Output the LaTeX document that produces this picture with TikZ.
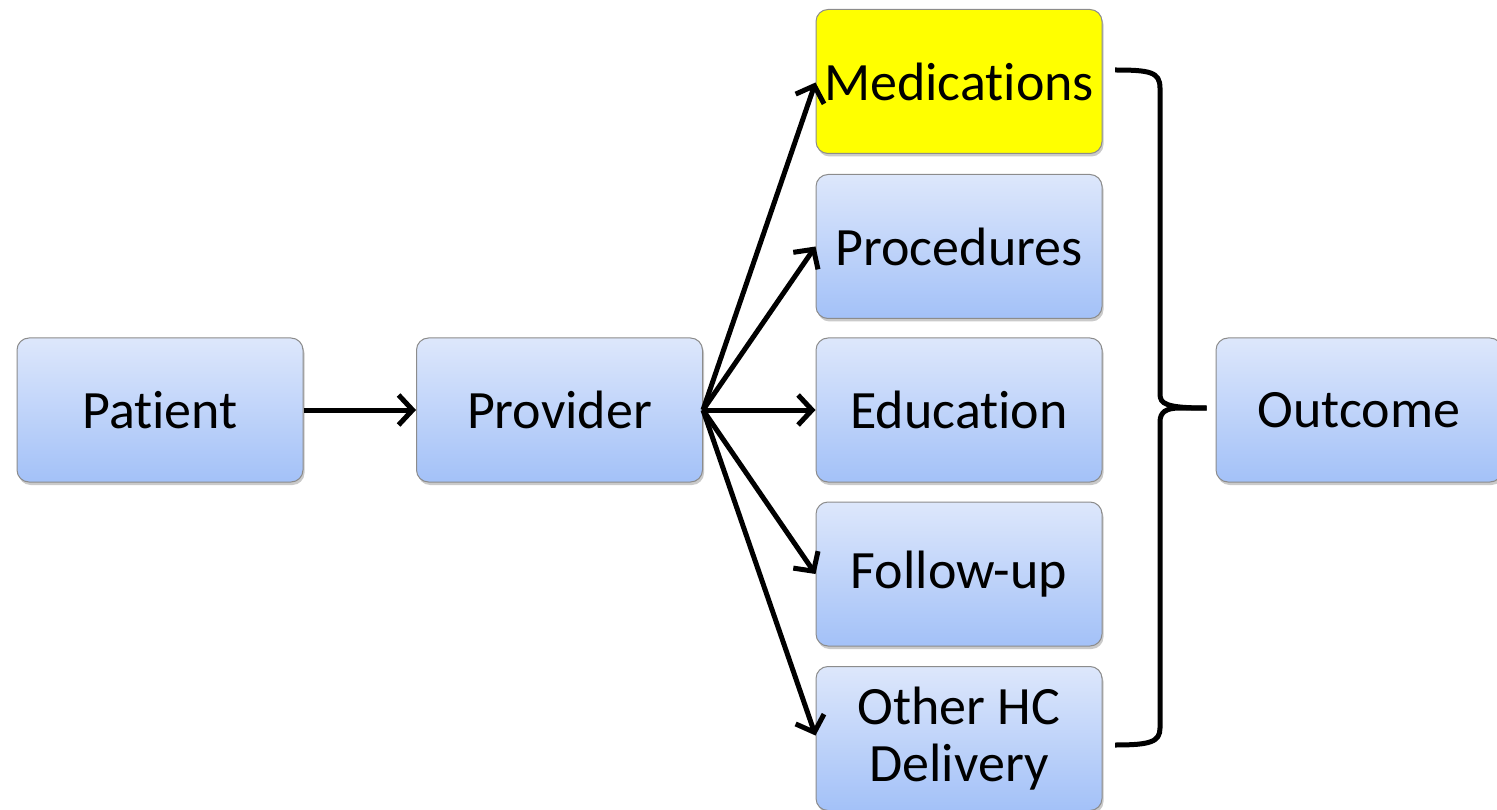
\documentclass[tikz,border=0pt]{standalone}
\usepackage{fontspec}
\setmainfont[Ligatures={NoCommon}]{Carlito}
\usetikzlibrary{arrows.meta,shadows,calc}
\begin{document}
\begin{tikzpicture}[x=1pt,y=-1pt,
  box/.style={draw=black!45, line width=1pt, rounded corners=12pt,
    minimum width=286pt, minimum height=144pt, align=center,
    top color=boxtop, bottom color=boxbot,
    font=\fontsize{54}{57}\selectfont,
    drop shadow={shadow xshift=1.5pt, shadow yshift=-3pt, opacity=0.35, fill=black!60}},
  hl/.style={box, top color=yellow, bottom color=yellow},
  conn/.style={line width=5pt, -{Straight Barb[length=14pt,width=30pt,line width=5pt]}},
  brace/.style={line width=5pt}]
\definecolor{boxtop}{HTML}{DDE7FB}
\definecolor{boxbot}{HTML}{A3C1F8}
\definecolor{yellow}{HTML}{FFFF00}
\useasboundingbox (0,0) rectangle (1497,810);
\node[box] (patient) at (160,410) {Patient};
\node[box] (provider) at (559.5,410) {Provider};
\node[hl] (med) at (959,81.5) {Medications};
\node[box] (proc) at (959,246.5) {Procedures};
\node[box] (edu) at (959,410) {Education};
\node[box] (fol) at (959,574) {Follow-up};
\node[box] (oth) at (959,738.5) {Other HC\\Delivery};
\node[box] (out) at (1359,410) {Outcome};
\draw[conn] (patient.east) -- (provider.west);
\coordinate (fan) at (provider.east);
\draw[conn] (fan) -- ($(med.west)+(0,1)$);
\draw[conn] (fan) -- (proc.west);
\draw[conn] (fan) -- (edu.west);
\draw[conn] (fan) -- (fol.west);
\draw[conn] (fan) -- ($(oth.west)+(0,-3)$);
\coordinate (btop) at (1115,70);
\coordinate (bbot) at (1115,745);
\coordinate (btip) at (out.west);
\draw[brace] (btop) .. controls (1150,70) and (1160,72) .. (1160,88)
  -- (1160,394) .. controls (1160,404) and (1166,408) .. ($(btip)+(-9,-2)$);
\draw[brace] ($(btip)+(-9,-2)$) -- (1180,408) .. controls (1166,408) and (1160,412) .. (1160,422)
  -- (1160,728) .. controls (1160,742) and (1150,745) .. (bbot);
\end{tikzpicture}
\end{document}
